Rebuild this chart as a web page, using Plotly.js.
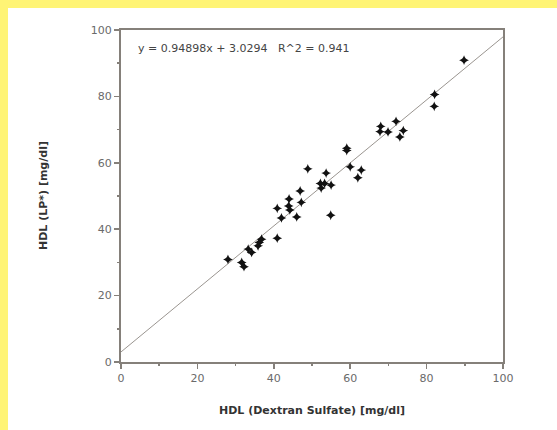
<!DOCTYPE html>
<html>
<head>
<meta charset="utf-8">
<script src="https://cdn.plot.ly/plotly-3.0.1.min.js"></script>
<style>
  html, body { margin: 0; padding: 0; background: #FFF475; width: 557px; height: 430px; overflow: hidden; }
  #chart { position: absolute; left: 8px; top: 8px; width: 549px; height: 422px; background: #fff; }
</style>
</head>
<body>
<div id="chart"></div>
<script>
// HDL measured by dextran sulfate precipitation vs. LP* method (mg/dl)
const hdlDextran = [28.0, 31.6, 32.2, 33.3, 34.2, 35.9, 36.2, 36.8, 40.9, 40.9,
                    42.0, 44.0, 43.9, 44.2, 46.0, 46.9, 47.2, 48.9, 52.2, 52.4,
                    53.3, 53.7, 55.0, 54.9, 59.1, 59.1, 60.0, 62.0, 62.9, 68.0,
                    67.8, 69.9, 72.0, 73.0, 73.9, 82.1, 82.0, 89.8];
const hdlLP      = [30.9, 30.0, 28.7, 34.0, 33.0, 35.0, 36.0, 37.0, 46.3, 37.3,
                    43.4, 49.1, 47.0, 45.8, 43.7, 51.5, 48.1, 58.2, 53.8, 52.4,
                    53.8, 56.9, 53.3, 44.2, 64.4, 63.7, 58.8, 55.5, 57.8, 71.0,
                    69.4, 69.3, 72.5, 67.8, 69.7, 80.6, 77.0, 90.9];

// Regression coefficients
const slope = 0.94898;
const intercept = 3.0294;
const rSquared = 0.941;
const fitX = [0, 100];
const fitY = fitX.map(v => slope * v + intercept);

const tickVals = [0, 20, 40, 60, 80, 100];
const tickText = ['0', '20', '40', '60', '80', '100'];

const axisColor = '#85807a';
const tickFont = { family: 'DejaVu Sans, sans-serif', size: 11, color: '#6a6a6a' };
const titleFont = { family: 'DejaVu Sans, sans-serif', size: 11, color: '#333', weight: 'bold' };

function axis() {
  return {
    range: [0, 100],
    tickvals: tickVals,
    ticktext: tickText,
    ticks: 'outside',
    ticklen: 5,
    tickwidth: 1.5,
    tickcolor: axisColor,
    minor: { dtick: 10, ticks: 'outside', ticklen: 2, tickwidth: 1.5, tickcolor: axisColor },
    showline: true,
    linecolor: axisColor,
    linewidth: 2,
    mirror: true,
    showgrid: false,
    zeroline: false,
    tickfont: tickFont,
    fixedrange: true
  };
}

const traces = [
  {
    x: fitX, y: fitY, mode: 'lines', type: 'scatter',
    line: { color: '#9a9590', width: 1 },
    hoverinfo: 'skip'
  },
  {
    x: hdlDextran, y: hdlLP, mode: 'markers', type: 'scatter',
    marker: { symbol: 'star-diamond', size: 7, color: '#111', line: { width: 0 } }
  }
];

const layout = {
  width: 549, height: 422,
  margin: { l: 113, r: 54, t: 22, b: 68 },
  paper_bgcolor: '#ffffff',
  plot_bgcolor: '#ffffff',
  showlegend: false,
  xaxis: axis(),
  yaxis: axis(),
  annotations: [
    {
      text: 'y = ' + slope + 'x + ' + intercept + '   R^2 = ' + rSquared,
      xref: 'paper', yref: 'paper', x: 0.04, y: 1, xanchor: 'left', yanchor: 'middle',
      yshift: -18, showarrow: false,
      font: { family: 'DejaVu Sans, sans-serif', size: 11, color: '#444' }
    },
    {
      text: 'HDL (Dextran Sulfate) [mg/dl]',
      xref: 'paper', yref: 'paper', x: 0.5, y: 0, xanchor: 'center', yanchor: 'middle',
      yshift: -48, showarrow: false, font: titleFont
    },
    {
      text: 'HDL (LP*) [mg/dl]',
      xref: 'paper', yref: 'paper', x: 0, y: 0.5, xanchor: 'center', yanchor: 'middle',
      xshift: -78, textangle: -90, showarrow: false, font: titleFont
    }
  ]
};

Plotly.newPlot('chart', traces, layout, { staticPlot: true });
</script>
</body>
</html>
